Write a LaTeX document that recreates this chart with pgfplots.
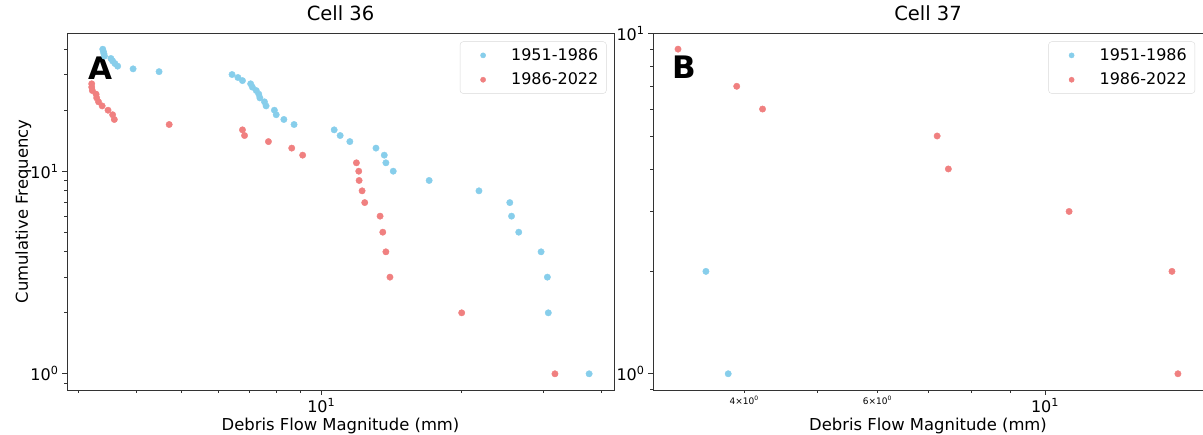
\documentclass[border=0pt]{standalone}
\usepackage{fontspec}
\setmainfont{DejaVu Sans}
\usepackage{pgfplots}
\pgfplotsset{compat=1.18}
\definecolor{cblue}{RGB}{135,206,235}
\definecolor{cred}{RGB}{240,128,128}
\definecolor{spine}{gray}{0.2}

\pgfplotstableread{
x y
3.39 40
3.40 39
3.41 38
3.42 37
3.53 36
3.56 35
3.60 34
3.65 33
3.94 32
4.48 31
6.43 30
6.62 29
6.77 28
7.05 27
7.11 26
7.25 25
7.34 24
7.38 23
7.55 22
7.61 21
7.93 20
8.00 19
8.31 18
8.74 17
10.66 16
10.98 15
11.52 14
13.11 13
13.66 12
13.77 11
14.28 10
17.06 9
21.83 8
25.43 7
25.65 6
26.58 5
29.69 4
30.63 3
30.77 2
37.67 1
}\blueA

\pgfplotstableread{
x y
3.21 27
3.21 26
3.22 25
3.28 24
3.29 23
3.32 22
3.38 21
3.48 20
3.56 19
3.59 18
4.71 17
6.77 16
6.84 15
7.70 14
8.64 13
9.12 12
11.90 11
12.04 10
12.06 9
12.24 8
12.40 7
13.38 6
13.56 5
13.77 4
14.05 3
20.04 2
31.80 1
}\redA

\pgfplotstableread{
x y
3.56 2
3.81 1
}\blueB

\pgfplotstableread{
x y
3.27 9
3.91 7
4.23 6
7.20 5
7.45 4
10.76 3
14.72 2
14.99 1
}\redB

\begin{document}
\begin{tikzpicture}
\useasboundingbox (0pt,0pt) rectangle (1203pt,435pt);

\begin{axis}[scale only axis, width=547pt, height=357pt,
  at={(67pt,45pt)}, anchor=south west,
  xmode=log, ymode=log,
  xmin=2.84, xmax=42.6, ymin=0.832, ymax=48.1,
  axis line style={draw=spine, line width=0.8pt},
  tick align=outside, tick pos=left,
  major tick length=5pt, minor tick length=3pt,
  tick style={draw=spine, line width=0.7pt},
  tick label style={font=\fontsize{16}{19}\selectfont},
  xtick={10}, xticklabels={10\textsuperscript{1}},
  minor xtick={3,4,5,6,7,8,9,20,30,40},
  ytick={1,10}, yticklabels={10\textsuperscript{0},10\textsuperscript{1}},
  minor ytick={0.9,2,3,4,5,6,7,8,9,20,30,40},
  title={Cell 36},
  title style={font=\fontsize{19.5}{23}\selectfont, anchor=base, at={(axis description cs:0.5,1.0168)}},
  xlabel={Debris Flow Magnitude (mm)},
  xlabel style={font=\fontsize{16.4}{19}\selectfont, anchor=base, at={(axis description cs:0.5,-0.1148)}},
  ylabel={Cumulative Frequency},
  ylabel style={font=\fontsize{16.4}{19}\selectfont, anchor=base, at={(axis description cs:-0.0713,0.5)}},
  legend style={at={(axis description cs:0.9863,0.9762)}, anchor=north east,
    draw=black!15, rounded corners=3pt, font=\fontsize{16}{19}\selectfont,
    inner xsep=6pt, inner ysep=5pt, row sep=7pt},
  legend cell align=left,
  legend image code/.code={\path[draw=none, fill=none] (0pt,-4pt) (43pt,4pt);
    \draw[#1, mark size=2.6pt] plot coordinates {(17pt,0pt)};},
]
\addplot[only marks, mark=*, mark size=3.2pt, color=cblue] table[x=x,y=y] {\blueA};
\addlegendentry{1951-1986}
\addplot[only marks, mark=*, mark size=3.2pt, color=cred] table[x=x,y=y] {\redA};
\addlegendentry{1986-2022}
\node[font=\bfseries\fontsize{31}{31}\selectfont] at (rel axis cs:0.062,0.902) {A};
\end{axis}

\begin{axis}[scale only axis, width=550pt, height=357pt,
  at={(653pt,45pt)}, anchor=south west,
  xmode=log, ymode=log,
  xmin=3.03, xmax=16.18, ymin=0.896, ymax=10.04,
  axis line style={draw=spine, line width=0.8pt},
  tick align=outside, tick pos=left,
  major tick length=5pt, minor tick length=3pt,
  tick style={draw=spine, line width=0.7pt},
  tick label style={font=\fontsize{16}{19}\selectfont},
  xtick={10}, xticklabels={10\textsuperscript{1}},
  minor xtick={5,7,8,9},
  extra x ticks={4,6},
  extra x tick labels={4×10\textsuperscript{0},6×10\textsuperscript{0}},
  extra x tick style={major tick length=3pt,
    tick label style={font=\fontsize{9}{10}\selectfont}},
  ytick={1,10}, yticklabels={10\textsuperscript{0},10\textsuperscript{1}},
  minor ytick={0.9,2,3,4,5,6,7,8,9},
  title={Cell 37},
  title style={font=\fontsize{19.5}{23}\selectfont, anchor=base, at={(axis description cs:0.5,1.0168)}},
  xlabel={Debris Flow Magnitude (mm)},
  xlabel style={font=\fontsize{16.4}{19}\selectfont, anchor=base, at={(axis description cs:0.5,-0.1148)}},
  legend style={at={(axis description cs:0.9855,0.9762)}, anchor=north east,
    draw=black!15, rounded corners=3pt, font=\fontsize{16}{19}\selectfont,
    inner xsep=6pt, inner ysep=5pt, row sep=7pt},
  legend cell align=left,
  legend image code/.code={\path[draw=none, fill=none] (0pt,-4pt) (43pt,4pt);
    \draw[#1, mark size=2.6pt] plot coordinates {(17pt,0pt)};},
]
\addplot[only marks, mark=*, mark size=3.2pt, color=cblue] table[x=x,y=y] {\blueB};
\addlegendentry{1951-1986}
\addplot[only marks, mark=*, mark size=3.2pt, color=cred] table[x=x,y=y] {\redB};
\addlegendentry{1986-2022}
\node[font=\bfseries\fontsize{31}{31}\selectfont] at (rel axis cs:0.057,0.905) {B};
\end{axis}
\end{tikzpicture}
\end{document}
